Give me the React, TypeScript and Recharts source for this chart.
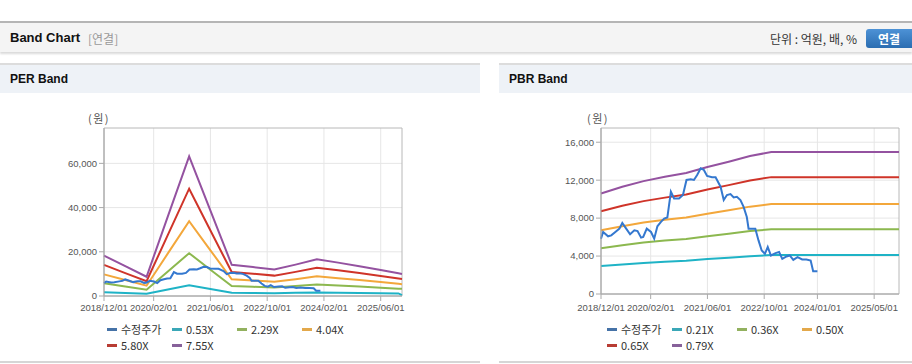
import React from 'react';
import { LineChart, Line, XAxis, YAxis, CartesianGrid, ReferenceArea } from 'recharts';

// months since 2018/12
const perMonths = [0, 6, 12, 18, 24, 30, 36, 42, 48, 54, 60, 66, 72, 78, 83, 84];
const per755 = [18300, 13500, 8700, 36000, 63200, 38600, 14100, 13100, 12000, 14200, 16600, 15100, 13500, 11800, 10300, 10000];
const per580 = [14060, 10370, 6680, 27650, 48550, 29650, 10830, 10060, 9220, 10910, 12750, 11600, 10370, 9070, 7910, 7690];
const per404 = [9790, 7220, 4650, 19260, 33820, 20660, 7550, 7010, 6420, 7600, 8880, 8080, 7220, 6320, 5510, 5350];
const per229 = [5750, 4300, 2840, 11120, 19370, 11910, 4480, 4170, 3840, 4510, 5240, 4780, 4300, 3780, 3320, 3230];
const per053 = [1740, 1400, 1060, 2980, 4890, 3160, 1440, 1370, 1290, 1450, 1620, 1510, 1400, 1280, 1170, 400];

const pbrMonths = [0, 6, 12, 18, 24, 30, 36, 42, 48, 84];
const pbr079 = [10600, 11300, 11900, 12350, 12750, 13380, 13950, 14550, 14970, 14970];
const pbr065 = [8720, 9300, 9790, 10160, 10490, 11010, 11480, 11970, 12320, 12320];
const pbr050 = [6710, 7150, 7530, 7820, 8070, 8470, 8830, 9210, 9480, 9480];
const pbr036 = [4830, 5150, 5420, 5630, 5810, 6100, 6360, 6630, 6820, 6820];
const pbr021 = [2940, 3120, 3280, 3400, 3510, 3680, 3830, 3990, 4100, 4100];

// 수정주가
const priceMonths = [0, 0.6, 2, 2.9, 4.3, 5.2, 6, 7.1, 8.2, 9.4, 10.3, 11.3, 11.9, 12.9, 14.1, 15, 15.9, 16.9, 17.8, 18.7,
  19.7, 20.6, 22, 23.1, 24.1, 25.3, 26.2, 27.1, 28.1, 29, 29.9, 31.3, 32.3, 33.7, 34.6, 35.5, 36.5, 37.4, 38.3, 39.3,
  40.2, 41.1, 41.6, 43.5, 44.4, 45.3, 46.2, 47, 47.9, 49.2, 50.2, 51.1, 52.3, 53.2, 54.2, 55.4, 56.7, 57.9, 59.1, 59.8, 61];
const priceValues = [5830, 6540, 6080, 6180, 6610, 6890, 7490, 6890, 6290, 6710, 6640, 5940, 6010, 6890, 6540, 5830, 7140, 7600, 7950, 8060,
  10780, 10070, 10070, 10430, 12020, 12090, 12020, 12550, 13250, 13080, 12440, 12300, 12300, 11310, 9900, 10430, 10530, 10180, 10250, 9900,
  9190, 8120, 6890, 6890, 5650, 4590, 4240, 4950, 4060, 4310, 4420, 3710, 3960, 4060, 3600, 3890, 3640, 3640, 3530, 2400, 2400];

const perTicks = [0, 14, 30, 46, 62, 78];
const perTickLabels = ['2018/12/01', '2020/02/01', '2021/06/01', '2022/10/01', '2024/02/01', '2025/06/01'];
const pbrTicks = [0, 14, 30, 46, 61, 77];
const pbrTickLabels = ['2018/12/01', '2020/02/01', '2021/06/01', '2022/10/01', '2024/01/01', '2025/05/01'];
const perYTicks = [0, 20000, 40000, 60000];
const pbrYTicks = [0, 4000, 8000, 12000, 16000];

const perNames = ['수정주가', '0.53X', '2.29X', '4.04X', '5.80X', '7.55X'];
const pbrNames = ['수정주가', '0.21X', '0.36X', '0.50X', '0.65X', '0.79X'];

const lineColors = ['#3478cf', '#1fb3c6', '#8cb84f', '#f3a73b', '#cf3429', '#9452a0'];
const legendColors = ['#4572a7', '#3aa7b7', '#92b15f', '#e3a84b', '#b83c34', '#87619a'];

const toRows = (months: number[], values: number[]) => months.map((m, i) => ({ m, v: values[i] }));
const priceRows = toRows(priceMonths, priceValues);

const tickFont = { fontSize: 9.5, fill: '#555', fontFamily: '"Liberation Sans", Arial, sans-serif' };
const korean = '"Noto Sans CJK KR", "Liberation Sans", sans-serif';

function BandChart({ bands, ticks, tickLabels, yTicks, yMax, plotHeight, marginLeft, marginRight, tickMargin }: any) {
  const fmt = (v: number) => tickLabels[ticks.indexOf(v)] ?? '';
  return (
    <LineChart width={marginLeft + 60 + 300 + marginRight - 2} height={268}
      margin={{ top: 35, right: marginRight, left: marginLeft, bottom: 268 - 35 - plotHeight - 20 }}>
      <CartesianGrid stroke="#e6e6e6" verticalValues={ticks} horizontalValues={yTicks} />
      <ReferenceArea x1={0} x2={84} y1={0} y2={yMax} fill="none" stroke="#b8b8b8" strokeWidth={1} />
      <XAxis type="number" dataKey="m" domain={[0, 84]} ticks={ticks} tickFormatter={fmt} interval={0}
        height={20} tick={tickFont} tickSize={5} tickMargin={tickMargin} stroke="#aaa" />
      <YAxis type="number" domain={[0, yMax]} ticks={yTicks} width={60} tick={tickFont} tickSize={5} tickMargin={2}
        stroke="#aaa" tickFormatter={(v: number) => v.toLocaleString('en-US')} />
      {bands.map((b: any[], i: number) => (
        <Line key={i} data={toRows(b[0], b[1])} dataKey="v" type="linear" stroke={lineColors[i + 1]}
          strokeWidth={2} dot={false} isAnimationActive={false} />
      ))}
      <Line data={priceRows} dataKey="v" type="linear" stroke={lineColors[0]} strokeWidth={2} dot={false} isAnimationActive={false} />
    </LineChart>
  );
}

function LegendBox({ names, left }: { names: string[]; left: number }) {
  return (
    <div style={{ position: 'absolute', left, top: 321, width: 270, display: 'flex', flexWrap: 'wrap' }}>
      {names.map((n, i) => (
        <div key={n} style={{ width: 65, height: 16, display: 'flex', alignItems: 'center', fontSize: 11, color: '#333', fontFamily: korean, lineHeight: '16px' }}>
          <span style={{ display: 'inline-block', width: 10, height: 3, background: legendColors[i], marginRight: 4 }} />
          <span>{n}</span>
        </div>
      ))}
    </div>
  );
}

function Panel({ title, left, width }: { title: string; left: number; width: number }) {
  return (
    <>
      <div style={{ position: 'absolute', left, top: 63, width, height: 2, background: '#dcdcdc' }} />
      <div style={{ position: 'absolute', left, top: 65, width, height: 28, background: '#eef2f7' }} />
      <div style={{ position: 'absolute', left: left + 10, top: 72, fontSize: 12, fontWeight: 'bold', color: '#111', fontFamily: '"Liberation Sans", Arial, sans-serif' }}>{title}</div>
      <div style={{ position: 'absolute', left, top: 361, width, height: 2, background: '#d6d6d6' }} />
    </>
  );
}

export default function App() {
  const perBands = [[perMonths, per053], [perMonths, per229], [perMonths, per404], [perMonths, per580], [perMonths, per755]];
  const pbrBands = [[pbrMonths, pbr021], [pbrMonths, pbr036], [pbrMonths, pbr050], [pbrMonths, pbr065], [pbrMonths, pbr079]];
  return (
    <div style={{ position: 'absolute', left: 0, top: 0, width: 912, height: 364, background: '#fff', overflow: 'hidden', fontFamily: '"Liberation Sans", Arial, sans-serif' }}>
      {/* header */}
      <div style={{ position: 'absolute', left: 0, top: 21, width: 912, height: 2, background: '#b5b5b5' }} />
      <div style={{ position: 'absolute', left: 0, top: 23, width: 912, height: 29, background: '#f4f4f4', boxShadow: '0 2px 2px rgba(0,0,0,0.15)' }} />
      <div style={{ position: 'absolute', left: 10, top: 30, fontSize: 13, fontWeight: 'bold', color: '#111' }}>Band Chart</div>
      <div style={{ position: 'absolute', left: 88, top: 30, fontSize: 12, color: '#999', fontFamily: korean }}>[연결]</div>
      <div style={{ position: 'absolute', left: 770, top: 30, fontSize: 12, color: '#333', fontFamily: korean }}>단위 : 억원, 배, %</div>
      <div style={{ position: 'absolute', left: 866, top: 29, width: 50, height: 19, borderRadius: 3, background: 'linear-gradient(#4d92d6, #2b6db1)', color: '#fff', fontSize: 12, fontWeight: 'bold', fontFamily: korean, lineHeight: '19px', textAlign: 'center', paddingRight: 4, boxSizing: 'border-box' }}>연결</div>

      <Panel title="PER Band" left={0} width={480} />
      <Panel title="PBR Band" left={499} width={413} />

      <div style={{ position: 'absolute', left: 88, top: 110, fontSize: 11, color: '#555', fontFamily: korean, letterSpacing: 1.5 }}>(원)</div>
      <div style={{ position: 'absolute', left: 587, top: 110, fontSize: 11, color: '#555', fontFamily: korean, letterSpacing: 1.5 }}>(원)</div>

      <div style={{ position: 'absolute', left: 0, top: 93 }}>
        <BandChart bands={perBands} ticks={perTicks} tickLabels={perTickLabels} yTicks={perYTicks} yMax={76000}
          plotHeight={168} marginLeft={44} marginRight={78} tickMargin={3} />
      </div>
      <div style={{ position: 'absolute', left: 499, top: 93 }}>
        <BandChart bands={pbrBands} ticks={pbrTicks} tickLabels={pbrTickLabels} yTicks={pbrYTicks} yMax={17500}
          plotHeight={166} marginLeft={42} marginRight={11} tickMargin={5} />
      </div>

      <LegendBox names={perNames} left={107} />
      <LegendBox names={pbrNames} left={607} />
    </div>
  );
}
